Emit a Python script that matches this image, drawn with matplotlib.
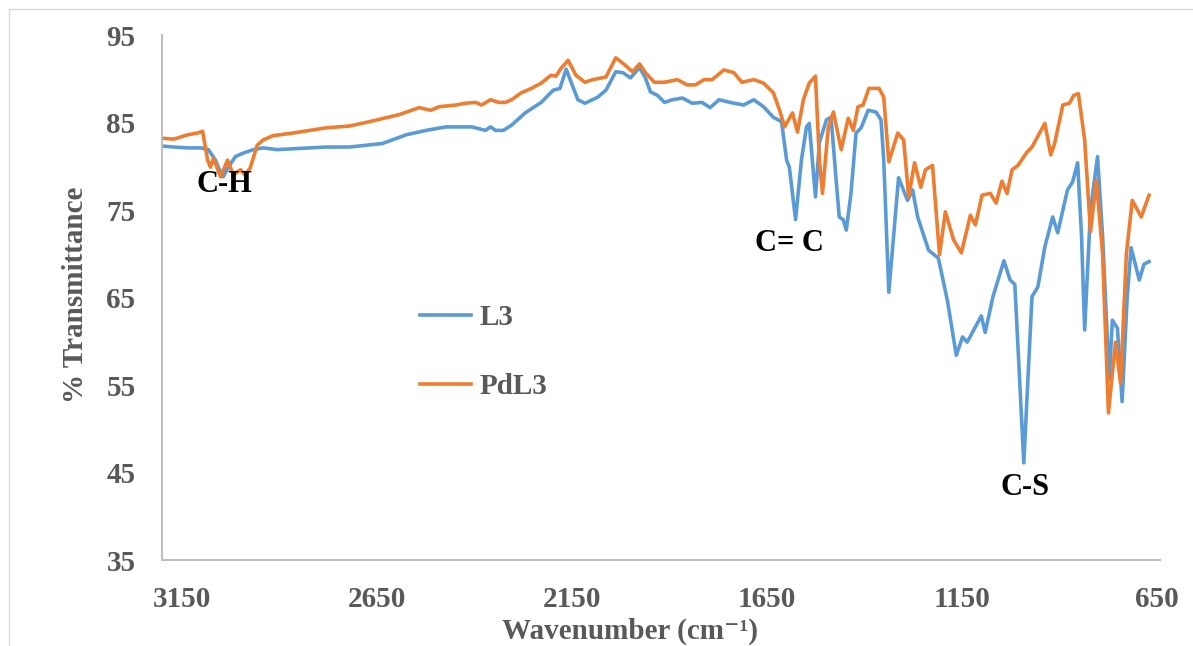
import matplotlib
matplotlib.use("Agg")
import matplotlib.pyplot as plt
from matplotlib.lines import Line2D

# FTIR spectra
l3_wn = [3198, 3170, 3134, 3101, 3081, 3063, 3050, 3043, 3030, 3012, 2992, 2966,
         2941, 2905, 2864, 2778, 2719, 2635, 2574, 2523, 2472, 2406, 2371, 2358,
         2345, 2325, 2304, 2269, 2228, 2197, 2180, 2164, 2147, 2134, 2116, 2083,
         2062, 2037, 2019, 1999, 1976, 1961, 1948, 1930, 1912, 1892, 1866, 1841,
         1816, 1795, 1772, 1744, 1709, 1683, 1658, 1633, 1612, 1599, 1592, 1576,
         1561, 1548, 1541, 1525, 1515, 1497, 1485, 1472, 1464, 1454, 1446, 1434,
         1421, 1408, 1390, 1370, 1357, 1350, 1337, 1312, 1289, 1276, 1263, 1235,
         1210, 1187, 1164, 1148, 1136, 1100, 1090, 1070, 1042, 1026, 1014, 991,
         970, 955, 937, 917, 904, 879, 866, 853, 843, 835, 820, 802, 789, 772,
         764, 751, 739, 726, 716, 695, 683, 670]
l3_t = [82.3, 82.2, 82.1, 82.1, 81.9, 80.7, 79.3, 78.8, 79.9, 81.1, 81.5, 81.9,
        82.1, 81.9, 82.0, 82.2, 82.2, 82.6, 83.6, 84.1, 84.5, 84.5, 84.1, 84.5,
        84.1, 84.1, 84.7, 86.1, 87.3, 88.7, 88.9, 91.1, 89.1, 87.6, 87.2, 87.9,
        88.7, 90.8, 90.7, 90.1, 91.3, 90.1, 88.5, 88.1, 87.3, 87.6, 87.8, 87.2,
        87.3, 86.7, 87.6, 87.3, 87.0, 87.6, 86.8, 85.6, 85.1, 80.7, 79.9, 73.9,
        80.7, 84.5, 84.9, 76.5, 82.7, 85.3, 85.6, 78.4, 74.2, 73.9, 72.7, 76.9,
        83.8, 84.4, 86.4, 86.2, 85.3, 80.7, 65.6, 78.7, 76.1, 77.3, 74.2, 70.4,
        69.5, 64.7, 58.4, 60.5, 59.9, 62.9, 61.0, 65.1, 69.2, 67.0, 66.5, 46.1,
        65.1, 66.2, 70.8, 74.2, 72.4, 77.3, 78.2, 80.4, 72.0, 61.3, 75.0, 81.1,
        72.0, 55.6, 62.4, 61.5, 53.1, 65.0, 70.7, 67.0, 68.8, 69.1]

pdl3_wn = [3198, 3170, 3134, 3109, 3096, 3083, 3076, 3068, 3050, 3032, 3017, 2999,
           2987, 2974, 2956, 2941, 2915, 2864, 2778, 2719, 2668, 2592, 2541, 2511,
           2490, 2447, 2422, 2396, 2381, 2358, 2337, 2320, 2304, 2279, 2253, 2228,
           2203, 2190, 2177, 2159, 2139, 2116, 2096, 2062, 2037, 2014, 1994, 1976,
           1961, 1938, 1912, 1879, 1854, 1833, 1810, 1790, 1760, 1734, 1714, 1683,
           1658, 1633, 1617, 1604, 1584, 1571, 1556, 1541, 1525, 1515, 1507, 1492,
           1479, 1459, 1441, 1428, 1416, 1403, 1388, 1362, 1350, 1337, 1314, 1299,
           1286, 1271, 1255, 1243, 1225, 1207, 1192, 1171, 1151, 1128, 1115, 1098,
           1077, 1062, 1047, 1034, 1021, 1006, 983, 970, 937, 922, 912, 891, 874,
           863, 851, 835, 820, 805, 789, 774, 756, 743, 728, 713, 690, 670]
pdl3_t = [83.2, 83.1, 83.6, 83.8, 84.0, 80.7, 79.9, 80.9, 78.8, 80.7, 79.0, 79.6,
          79.0, 79.8, 82.4, 83.0, 83.5, 83.8, 84.4, 84.6, 85.1, 85.9, 86.7, 86.4,
          86.8, 87.0, 87.2, 87.3, 87.0, 87.6, 87.3, 87.3, 87.6, 88.4, 88.9, 89.5,
          90.4, 90.3, 91.2, 92.1, 90.4, 89.6, 89.9, 90.2, 92.4, 91.6, 90.8, 91.7,
          90.7, 89.6, 89.6, 89.9, 89.3, 89.3, 89.9, 89.9, 91.0, 90.7, 89.6, 89.9,
          89.5, 88.4, 86.4, 84.5, 86.1, 83.9, 87.6, 89.5, 90.3, 80.7, 76.9, 84.5,
          86.2, 81.9, 85.5, 84.1, 86.8, 87.0, 88.9, 88.9, 87.9, 80.5, 83.8, 83.0,
          76.5, 80.4, 77.6, 79.6, 80.1, 69.9, 74.8, 71.6, 70.1, 74.4, 73.3, 76.7,
          76.9, 75.8, 78.3, 76.9, 79.6, 80.1, 81.6, 82.2, 84.9, 81.3, 82.6, 87.0,
          87.2, 88.1, 88.3, 83.0, 72.5, 78.4, 70.0, 51.8, 59.9, 55.2, 70.0, 76.1,
          74.2, 76.7]

x_ticks = [3150, 2650, 2150, 1650, 1150, 650]
y_ticks = [35, 45, 55, 65, 75, 85, 95]
peak_labels = [("C-H", 3040, 77.9), ("C= C", 1591, 71.2), ("C-S", 988, 43.3)]

plt.rcParams['font.family'] = ['Liberation Serif', 'DejaVu Serif']
plt.rcParams['font.weight'] = 'bold'

grey = '#595959'
fig = plt.figure(figsize=(11.93, 6.46), dpi=100)
ax = fig.add_axes([0.1358, 0.1331, 0.8365, 0.8127])

ax.plot(l3_wn, l3_t, color='#5B9BD5', lw=2.6, label='L3', solid_joinstyle='round')
ax.plot(pdl3_wn, pdl3_t, color='#ED7D31', lw=2.6, label='PdL3', solid_joinstyle='round')

ax.set_xlim(3200, 642)
ax.set_ylim(35, 95)
ax.set_xticks(x_ticks)
ax.set_yticks(y_ticks)
ax.tick_params(length=0, labelsize=21, labelcolor=grey, pad=19)
for lab in ax.get_xticklabels() + ax.get_yticklabels():
    lab.set_fontweight('bold')

for side in ['top', 'right']:
    ax.spines[side].set_visible(False)
for side in ['left', 'bottom']:
    ax.spines[side].set_color('#BFBFBF')
    ax.spines[side].set_linewidth(1.5)

ax.set_xlabel('Wavenumber (cm\u207b\u00b9)', fontsize=21,
              color=grey, fontweight='bold', va='center')
ax.xaxis.set_label_coords(0.469, -0.135)
ax.set_ylabel('% Transmittance', fontsize=21, color=grey,
              fontweight='bold', va='center')
ax.yaxis.set_label_coords(-0.087, 0.505)

for txt, xw, yv in peak_labels:
    ax.text(xw, yv, txt, fontsize=22, fontweight='bold', color='black',
            ha='center', va='center')

leg = ax.legend(loc='upper left', bbox_to_anchor=(420 / 1193, 1 - 304 / 646),
                bbox_transform=fig.transFigure, frameon=False, fontsize=21,
                handlelength=1.75, handletextpad=0.3, labelspacing=1.45,
                borderpad=0, borderaxespad=0)
for t in leg.get_texts():
    t.set_color(grey)
    t.set_fontweight('bold')

# chart area border (only left and top edges visible in the picture)
fig.add_artist(Line2D([9 / 1193, 9 / 1193], [0, 1 - 9 / 646],
                      transform=fig.transFigure, color='#D9D9D9', lw=1))
fig.add_artist(Line2D([9 / 1193, 1], [1 - 9 / 646, 1 - 9 / 646],
                      transform=fig.transFigure, color='#D9D9D9', lw=1))

fig.savefig('out.png', dpi=100, facecolor='white')
